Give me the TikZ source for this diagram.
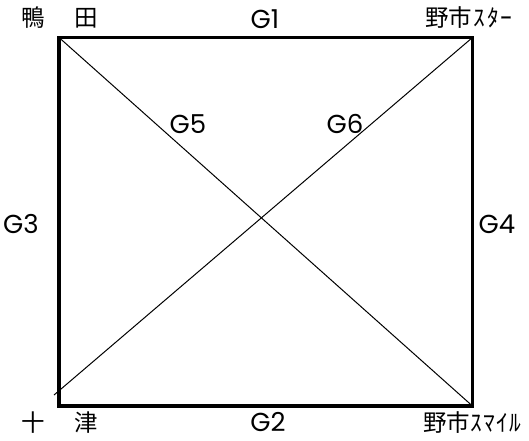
\documentclass[tikz,border=0pt]{standalone}
\usepackage{fontspec}
\setmainfont{Noto Sans CJK JP}
\newfontfamily\glabfont{Poppins}
\begin{document}
\begin{tikzpicture}[x=1pt,y=-1pt,
  lbl/.style={inner sep=0pt,font=\fontsize{23.5}{23.5}\selectfont},
  glbl/.style={inner sep=0pt,text height=18pt,text depth=0pt,font=\glabfont\fontsize{26}{26}\selectfont},
  frame/.style={line width=3.2pt,line join=miter},
  diag/.style={line width=1pt}]
\useasboundingbox (0,0) rectangle (529,440);
\coordinate (tl) at (59,37.5);
\coordinate (tr) at (472.5,37.5);
\coordinate (br) at (472.5,406);
\coordinate (bl) at (59,406);
\coordinate (blx) at (54,395);
\draw[frame] (tl) -- (tr) -- (br) -- (bl) -- cycle;
\draw[diag] (tl) -- (br);
\draw[diag] (tr) -- (blx);
\node[lbl] (kamoda) at (60,18) {鴨\hspace{30pt}田};
\node[glbl] (g1) at (265,19) {G1};
\node[lbl] (star) at (469,18) {野市\hspace{1pt}ｽ\hspace{2pt}ﾀ\hspace{2pt}ｰ};
\node[lbl] (totsu) at (60,423) {十\hspace{30pt}津};
\node[glbl] (g2) at (268,422) {G2};
\node[lbl] (smile) at (472,423) {野市\hspace{1pt}ｽ\hspace{1pt}ﾏ\hspace{1pt}ｲ\hspace{1pt}ﾙ};
\node[glbl] (g3) at (21,224) {G3};
\node[glbl] (g4) at (497,224) {G4};
\node[glbl] (g5) at (188,124) {G5};
\node[glbl] (g6) at (345,124) {G6};
\end{tikzpicture}
\end{document}
